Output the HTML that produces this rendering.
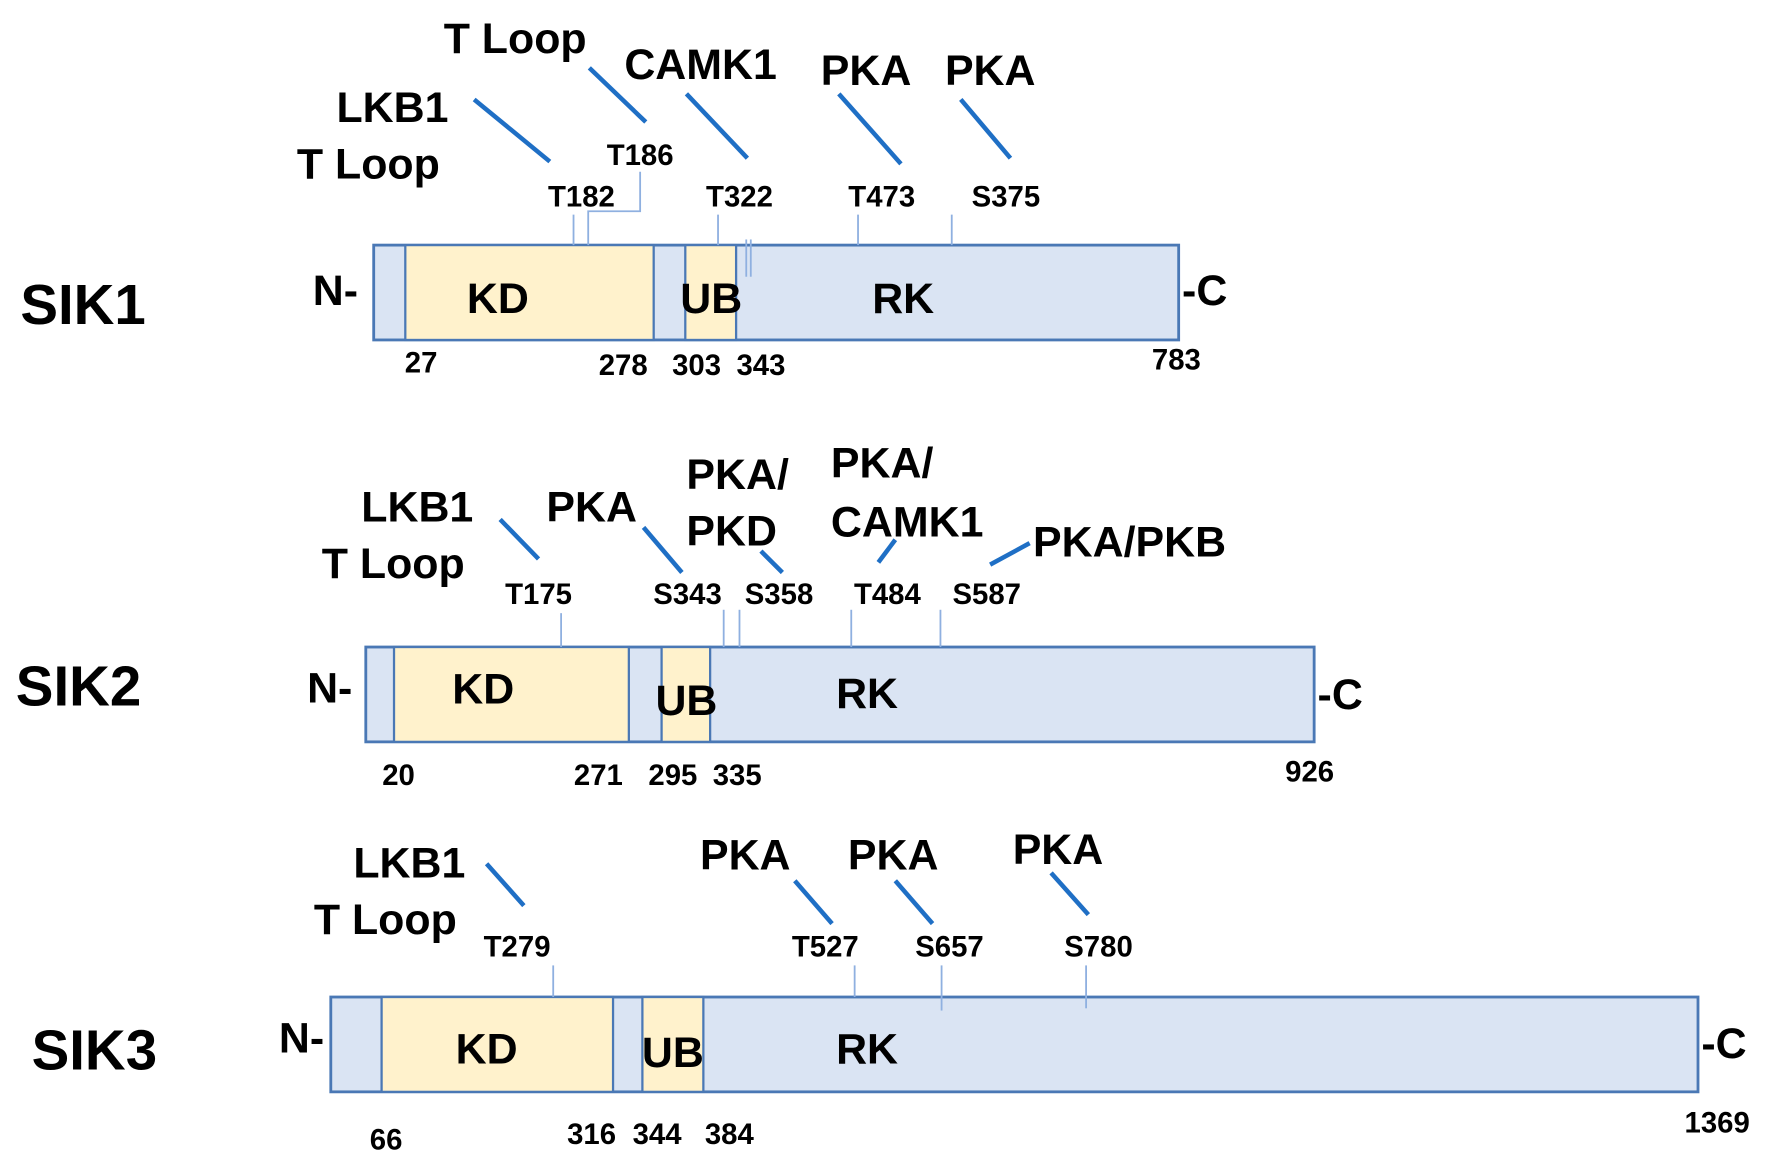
<!DOCTYPE html>
<html><head><meta charset="utf-8"><style>
html,body{margin:0;padding:0;background:#fff}
svg{display:block}
text{font-family:"Liberation Sans",sans-serif;font-weight:bold;fill:#000}
.h{font-size:38px}
.s{font-size:26px}
.n{font-size:26px}
.big{font-size:50px}
.dl{stroke:#1f6fc5;stroke-width:4}
.tk{stroke:#8fb0e0;stroke-width:1.6;fill:none}
.b{fill:#dae4f3;stroke:#4a78b5;stroke-width:2.5}
.y{fill:#fff2cc;stroke:#4a78b5;stroke-width:2}
</style></head><body>
<svg width="1768" height="1171" viewBox="0 0 1566 1037" xmlns="http://www.w3.org/2000/svg">
<!-- SIK1 -->
<text class="big" x="18" y="287">SIK1</text>
<rect class="b" x="331" y="217" width="713" height="84"/>
<rect class="y" x="359" y="217" width="220" height="84"/>
<rect class="y" x="607" y="217" width="45" height="84"/>
<text class="h" x="277" y="270">N-</text>
<text class="h" x="1047" y="270">-C</text>
<text class="h" x="441" y="277" text-anchor="middle">KD</text>
<text class="h" x="630" y="277" text-anchor="middle">UB</text>
<text class="h" x="800" y="277" text-anchor="middle">RK</text>
<text class="n" x="373" y="330" text-anchor="middle">27</text>
<text class="n" x="552" y="332" text-anchor="middle">278</text>
<text class="n" x="617" y="332" text-anchor="middle">303</text>
<text class="n" x="674" y="332" text-anchor="middle">343</text>
<text class="n" x="1042" y="327" text-anchor="middle">783</text>
<text class="s" x="515" y="183" text-anchor="middle">T182</text>
<text class="s" x="567" y="146" text-anchor="middle">T186</text>
<text class="s" x="655" y="183" text-anchor="middle">T322</text>
<text class="s" x="781" y="183" text-anchor="middle">T473</text>
<text class="s" x="891" y="183" text-anchor="middle">S375</text>
<line class="tk" x1="508" y1="190" x2="508" y2="217"/>
<polyline class="tk" points="521,217 521,187 567,187 567,152"/>
<line class="tk" x1="636" y1="190" x2="636" y2="217"/>
<line class="tk" x1="661" y1="212" x2="661" y2="245"/>
<line class="tk" x1="665" y1="212" x2="665" y2="245"/>
<line class="tk" x1="760" y1="190" x2="760" y2="217"/>
<line class="tk" x1="843" y1="190" x2="843" y2="217"/>
<line class="dl" x1="420" y1="88" x2="487" y2="143"/>
<line class="dl" x1="522" y1="60" x2="572" y2="108"/>
<line class="dl" x1="608" y1="83" x2="662" y2="140"/>
<line class="dl" x1="743" y1="83" x2="798" y2="145"/>
<line class="dl" x1="851" y1="88" x2="895" y2="140"/>
<text class="h" x="393" y="47">T Loop</text>
<text class="h" x="298" y="108">LKB1</text>
<text class="h" x="263" y="158">T Loop</text>
<text class="h" x="553" y="70">CAMK1</text>
<text class="h" x="727" y="75">PKA</text>
<text class="h" x="837" y="75">PKA</text>
<!-- SIK2 -->
<text class="big" x="14" y="625">SIK2</text>
<rect class="b" x="324" y="573" width="840" height="84"/>
<rect class="y" x="349" y="573" width="208" height="84"/>
<rect class="y" x="586" y="573" width="43" height="84"/>
<text class="h" x="272" y="622">N-</text>
<text class="h" x="1167" y="628">-C</text>
<text class="h" x="428" y="623" text-anchor="middle">KD</text>
<text class="h" x="608" y="633" text-anchor="middle">UB</text>
<text class="h" x="768" y="627" text-anchor="middle">RK</text>
<text class="n" x="353" y="695" text-anchor="middle">20</text>
<text class="n" x="530" y="695" text-anchor="middle">271</text>
<text class="n" x="596" y="695" text-anchor="middle">295</text>
<text class="n" x="653" y="695" text-anchor="middle">335</text>
<text class="n" x="1160" y="692" text-anchor="middle">926</text>
<text class="s" x="477" y="535" text-anchor="middle">T175</text>
<text class="s" x="609" y="535" text-anchor="middle">S343</text>
<text class="s" x="690" y="535" text-anchor="middle">S358</text>
<text class="s" x="786" y="535" text-anchor="middle">T484</text>
<text class="s" x="874" y="535" text-anchor="middle">S587</text>
<line class="tk" x1="497" y1="543" x2="497" y2="573"/>
<line class="tk" x1="641" y1="540" x2="641" y2="573"/>
<line class="tk" x1="655" y1="540" x2="655" y2="573"/>
<line class="tk" x1="754" y1="540" x2="754" y2="573"/>
<line class="tk" x1="833" y1="540" x2="833" y2="573"/>
<line class="dl" x1="443" y1="460" x2="477" y2="495"/>
<line class="dl" x1="570" y1="467" x2="604" y2="507"/>
<line class="dl" x1="674" y1="488" x2="693" y2="507"/>
<line class="dl" x1="793" y1="478" x2="778" y2="498"/>
<line class="dl" x1="912" y1="481" x2="877" y2="500"/>
<text class="h" x="320" y="462">LKB1</text>
<text class="h" x="285" y="512">T Loop</text>
<text class="h" x="484" y="462">PKA</text>
<text class="h" x="608" y="433">PKA/</text>
<text class="h" x="608" y="483">PKD</text>
<text class="h" x="736" y="423">PKA/</text>
<text class="h" x="736" y="475">CAMK1</text>
<text class="h" x="915" y="493">PKA/PKB</text>
<!-- SIK3 -->
<text class="big" x="28" y="947">SIK3</text>
<rect class="b" x="293" y="883" width="1211" height="84"/>
<rect class="y" x="338" y="883" width="205" height="84"/>
<rect class="y" x="569" y="883" width="54" height="84"/>
<text class="h" x="247" y="932">N-</text>
<text class="h" x="1507" y="937">-C</text>
<text class="h" x="431" y="942" text-anchor="middle">KD</text>
<text class="h" x="596" y="945" text-anchor="middle">UB</text>
<text class="h" x="768" y="942" text-anchor="middle">RK</text>
<text class="n" x="342" y="1018" text-anchor="middle">66</text>
<text class="n" x="524" y="1013" text-anchor="middle">316</text>
<text class="n" x="582" y="1013" text-anchor="middle">344</text>
<text class="n" x="646" y="1013" text-anchor="middle">384</text>
<text class="n" x="1521" y="1003" text-anchor="middle">1369</text>
<text class="s" x="458" y="847" text-anchor="middle">T279</text>
<text class="s" x="731" y="847" text-anchor="middle">T527</text>
<text class="s" x="841" y="847" text-anchor="middle">S657</text>
<text class="s" x="973" y="847" text-anchor="middle">S780</text>
<line class="tk" x1="490" y1="855" x2="490" y2="883"/>
<line class="tk" x1="757" y1="855" x2="757" y2="883"/>
<line class="tk" x1="834" y1="855" x2="834" y2="895"/>
<line class="tk" x1="962" y1="855" x2="962" y2="893"/>
<line class="dl" x1="431" y1="765" x2="464" y2="802"/>
<line class="dl" x1="704" y1="780" x2="737" y2="818"/>
<line class="dl" x1="793" y1="780" x2="826" y2="818"/>
<line class="dl" x1="931" y1="773" x2="964" y2="810"/>
<text class="h" x="313" y="777">LKB1</text>
<text class="h" x="278" y="827">T Loop</text>
<text class="h" x="620" y="770">PKA</text>
<text class="h" x="751" y="770">PKA</text>
<text class="h" x="897" y="765">PKA</text>
</svg>
</body></html>
